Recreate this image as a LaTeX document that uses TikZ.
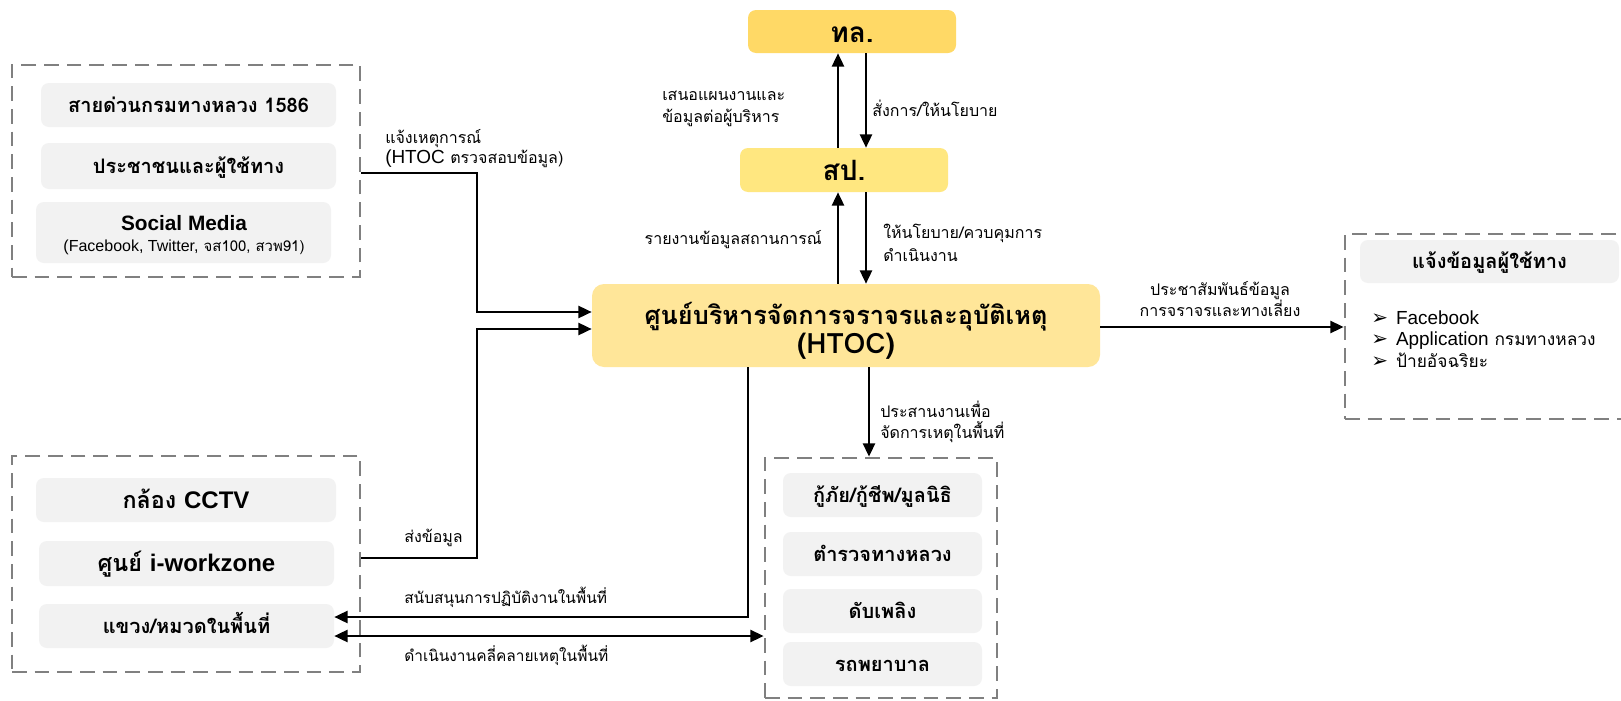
\documentclass[tikz,border=0pt]{standalone}
\usepackage{fontspec}
\setmainfont{Loma}[Script=Thai]
\newfontfamily\symfont{DejaVu Sans}
\newfontfamily\lat{Liberation Sans}
% Latin words set in a sans at a given size
\newcommand\latx[2]{{\lat\fontsize{#1}{0}\selectfont #2}}
% box text lowered so that its x-height sits on the box centre
\newcommand\dn[2]{\raisebox{-#1}[0pt][0pt]{#2}}
\usetikzlibrary{arrows.meta,fit}
\definecolor{tlfill}{HTML}{FFD966}
\definecolor{spfill}{HTML}{FFE780}
\definecolor{htocfill}{HTML}{FFE699}
\definecolor{boxgray}{HTML}{F2F2F2}
\definecolor{dashgray}{HTML}{808080}
\begin{document}
\begin{tikzpicture}[x=0.75pt,y=-0.75pt,
  grp/.style={draw=dashgray, line width=2pt, dash pattern=on 11pt off 6pt, inner sep=0pt},
  gbox/.style={fill=boxgray, rounded corners=6pt, inner sep=0pt,
    font=\bfseries\fontsize{15}{18}\selectfont},
  bigbox/.style={gbox, font=\bfseries\fontsize{17.5}{20}\selectfont},
  ybox/.style={rounded corners=6pt, inner sep=0pt,
    font=\bfseries\fontsize{21}{24}\selectfont},
  lbl/.style={font=\fontsize{12}{16}\selectfont, align=left, inner sep=0pt},
  txt/.style={inner sep=0pt, anchor=base},
  bul/.style={inner sep=0pt, anchor=base west, font=\fontsize{13}{16}\selectfont},
  tip/.tip={Triangle[length=10pt,width=9pt]},
  arr/.style={line width=1.8pt, -tip},
  darr/.style={line width=1.8pt, tip-tip}]
\clip (0,0) rectangle (1621,700);
\fill[white] (0,0) rectangle (1621,700);

% sources on the left
\node[grp, fit={(12,65) (360,277)}] (src) {};
\node[gbox, fit={(41,83) (336,127)}] (hot) {\dn{5.25pt}{สายด่วนกรมทางหลวง 1586}};
\node[gbox, fit={(41,143) (336,189)}] (pub) {\dn{5.25pt}{ประชาชนและผู้ใช้ทาง}};
\node[gbox, fit={(36,202) (331,263)}] (soc) {};
\node[txt, font=\bfseries] (soc-t) at (184,230) {\latx{15.6}{Social Media}};
\node[txt, font=\fontsize{11.2}{12}\selectfont] (soc-s) at (184,251)
  {\latx{12}{(Facebook, Twitter,} จส100, สวพ91)};

\node[grp, fit={(12,456) (360,672)}] (fld) {};
\node[bigbox, fit={(36,478) (336,522)}] (cctv) {\dn{6pt}{กล้อง \latx{18}{CCTV}}};
\node[bigbox, fit={(39,541) (334,586)}] (iwz) {\dn{6pt}{ศูนย์ \latx{18}{i-workzone}}};
\node[gbox, fit={(39,604) (334,648)}] (dist) {\dn{5.25pt}{แขวง/หมวดในพื้นที่}};

% chain of command
\node[ybox, fill=tlfill, fit={(748,10) (956,53)}] (tl) {\dn{7.9pt}{ทล.}};
\node[ybox, fill=spfill, fit={(740,148) (948,192)}] (sp) {\dn{7.6pt}{สป.}};
\node[ybox, fill=htocfill, rounded corners=9pt, fit={(592,284) (1100,367)}] (htoc) {};
\node[txt, font=\bfseries\fontsize{19}{22}\selectfont] (htoc-t) at (846,324) {ศูนย์บริหารจัดการจราจรและอุบัติเหตุ};
\node[txt, font=\bfseries\fontsize{21}{24}\selectfont] (htoc-s) at (846,353) {(HTOC)};

% responders
\node[grp, fit={(765,458) (997,698)}] (resp) {};
\node[gbox, fit={(783,473) (982,517)}] (r1) {\dn{5.25pt}{กู้ภัย/กู้ชีพ/มูลนิธิ}};
\node[gbox, fit={(783,532) (982,576)}] (r2) {\dn{5.25pt}{ตำรวจทางหลวง}};
\node[gbox, fit={(783,589) (982,633)}] (r3) {\dn{5.25pt}{ดับเพลิง}};
\node[gbox, fit={(783,642) (982,686)}] (r4) {\dn{5.25pt}{รถพยาบาล}};

% road user information
\node[grp, fit={(1345,234) (1660,419)}] (info) {};
\node[gbox, fit={(1360,240) (1619,283)}] (usr) {\dn{5.25pt}{แจ้งข้อมูลผู้ใช้ทาง}};
\node[bul] (b1) at (1371,324)
  {{\symfont\fontsize{15}{16}\selectfont ➢}\hspace{6pt}\latx{14.2}{Facebook}};
\node[bul] (b2) at (1371,345.5)
  {{\symfont\fontsize{15}{16}\selectfont ➢}\hspace{6pt}\latx{14.2}{Application} กรมทางหลวง};
\node[bul] (b3) at (1371,367)
  {{\symfont\fontsize{15}{16}\selectfont ➢}\hspace{6pt}ป้ายอัจฉริยะ};

% connectors
\draw[arr] (src.east |- 0,173) -| (477,312) -- (htoc.west |- 0,312);
\draw[arr] (fld.east |- 0,558) -| (477,329) -- (htoc.west |- 0,329);
\draw[arr] (sp.north -| 838,0) -- (tl.south -| 838,0);
\draw[arr] (tl.south -| 866,0) -- (sp.north -| 866,0);
\draw[arr] (htoc.north -| 838,0) -- (sp.south -| 838,0);
\draw[arr] (sp.south -| 866,0) -- (htoc.north -| 866,0);
\draw[arr] (htoc.south -| 869,0) -- (resp.north -| 869,0);
\draw[arr] (htoc.east |- 0,327) -- (info.west |- 0,327);
\draw[arr] (htoc.south -| 748,0) |- (dist.east |- 0,617);
\draw[darr] (dist.east |- 0,636) -- (resp.west |- 0,636);

% connector labels
\node[lbl, anchor=west, font=\fontsize{12}{15}\selectfont] (l1) at (385,149) {แจ้งเหตุการณ์\\\latx{14.2}{(HTOC} ตรวจสอบข้อมูล)};
\node[lbl, anchor=west] (l2) at (662,109) {เสนอแผนงานและ\\ข้อมูลต่อผู้บริหาร};
\node[lbl, anchor=west] (l3) at (872,108) {สั่งการ/ให้นโยบาย};
\node[lbl, anchor=east] (l4) at (822,240) {รายงานข้อมูลสถานการณ์};
\node[lbl, anchor=west, font=\fontsize{12}{17}\selectfont] (l5) at (883,243) {ให้นโยบาย/ควบคุมการ\\ดำเนินงาน};
\node[lbl, align=center, font=\fontsize{12}{15.5}\selectfont] (l6) at (1220,299) {ประชาสัมพันธ์ข้อมูล\\การจราจรและทางเลี่ยง};
\node[lbl, anchor=west] (l7) at (880,422) {ประสานงานเพื่อ\\จัดการเหตุในพื้นที่};
\node[lbl, anchor=west] (l8) at (404,538) {ส่งข้อมูล};
\node[lbl, anchor=west, font=\fontsize{11.6}{16}\selectfont] (l9) at (404,597) {สนับสนุนการปฏิบัติงานในพื้นที่};
\node[lbl, anchor=west, font=\fontsize{11.6}{16}\selectfont] (l10) at (404,655) {ดำเนินงานคลี่คลายเหตุในพื้นที่};
\end{tikzpicture}
\end{document}
